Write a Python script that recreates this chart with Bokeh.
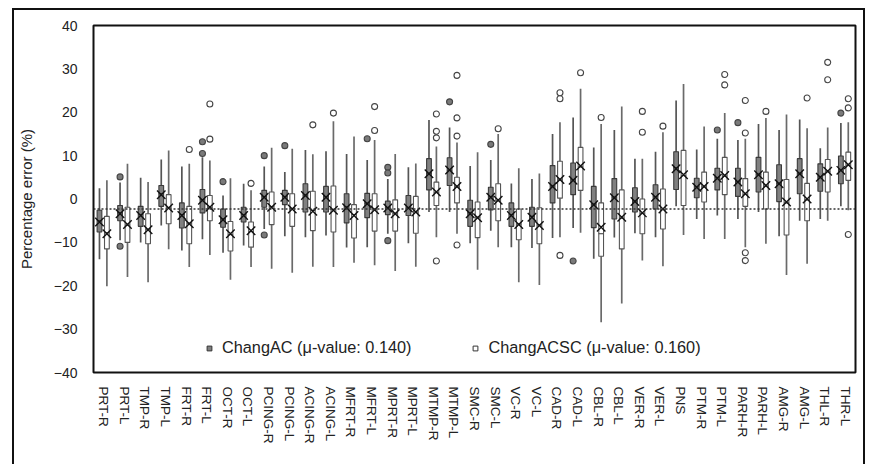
from bokeh.plotting import figure
from bokeh.models import ColumnDataSource, FactorRange, Range1d, Span, Legend, LegendItem, FixedTicker
from bokeh.transform import dodge
from bokeh.embed import file_html
from bokeh.resources import INLINE

cats = ["PRT-R", "PRT-L", "TMP-R", "TMP-L", "FRT-R", "FRT-L", "OCT-R", "OCT-L",
        "PCING-R", "PCING-L", "ACING-R", "ACING-L", "MFRT-R", "MFRT-L", "MPRT-R",
        "MPRT-L", "MTMP-R", "MTMP-L", "SMC-R", "SMC-L", "VC-R", "VC-L", "CAD-R",
        "CAD-L", "CBL-R", "CBL-L", "VER-R", "VER-L", "PNS", "PTM-R", "PTM-L",
        "PARH-R", "PARH-L", "AMG-R", "AMG-L", "THL-R", "THR-L"]

# ChangAC (grey)
ac_lo = [-13.9, -9.5, -10.0, -6.1, -11.9, -9.3, -12.4, -10.7, -6.9, -8.6, -8.8, -8.4, -11.2,
         -11.1, -8.0, -10.2, -3.0, -3.0, -10.2, -7.3, -11.1, -11.3, -9.0, -6.7, -13.8, -8.9,
         -7.9, -8.8, -1.7, -4.6, -3.8, -4.6, -3.0, -8.6, -5.0, -4.6, -1.7]
ac_q1 = [-7.6, -5.0, -6.3, -1.7, -6.7, -3.2, -6.5, -5.3, -1.9, -1.3, -3.0, -3.0, -5.5, -4.3,
         -3.6, -3.8, 2.1, 3.1, -6.3, -2.5, -6.3, -6.3, -0.9, 1.0, -6.6, -4.6, -3.0, -2.3, 2.2,
         0.3, 2.1, 0.6, 1.6, -0.6, 1.2, 1.8, 3.5]
ac_med = [-5.0, -3.2, -3.6, 1.2, -3.6, -0.2, -4.6, -3.6, 0.5, 0.5, 0.9, 0.5, -1.8, -1.0, -2.0,
          -2.0, 5.9, 6.6, -3.2, 0.5, -3.6, -4.0, 3.0, 4.4, -1.2, 0.4, -0.5, 0.5, 7.2, 2.8, 4.9,
          4.0, 5.7, 3.6, 5.9, 5.1, 6.7]
ac_q3 = [-2.6, -1.5, -1.7, 3.1, -0.9, 2.2, -2.3, -1.9, 2.0, 2.0, 3.5, 2.9, 1.2, 1.3, -0.5, 0.8,
         9.3, 9.5, -0.3, 2.7, -0.9, -1.9, 7.7, 8.3, 2.9, 4.7, 2.6, 3.3, 10.9, 4.8, 7.1, 7.1,
         9.6, 7.9, 9.3, 8.1, 9.9]
ac_hi = [2.5, 3.8, 4.9, 9.1, 7.5, 9.6, 0.8, 3.5, 7.5, 6.2, 11.3, 11.0, 10.4, 9.0, 4.6, 7.3,
         18.2, 16.5, 7.6, 9.0, 3.6, 4.6, 15.0, 18.8, 11.9, 15.9, 9.3, 10.9, 22.7, 11.4, 13.9,
         13.6, 17.3, 15.9, 18.3, 11.7, 17.5]
ac_mean = [-5.3, -3.4, -3.8, 1.0, -3.8, -0.3, -4.8, -3.8, 0.4, 0.4, 0.8, 0.4, -2.0, -1.1, -2.1,
           -2.1, 5.8, 6.7, -3.4, 0.4, -3.8, -4.2, 2.9, 4.3, -1.3, 0.3, -0.6, 0.4, 7.0, 2.7, 4.8,
           3.9, 5.6, 3.5, 5.8, 5.0, 6.6]
ac_out_cat = ["PRT-L", "PRT-L", "FRT-L", "FRT-L", "OCT-R", "PCING-R", "PCING-R", "PCING-L",
              "MFRT-L", "MPRT-R", "MPRT-R", "MPRT-R", "MTMP-L", "SMC-L", "CAD-L", "PTM-L",
              "PARH-R", "THR-L"]
ac_out_val = [5.1, -10.9, 13.2, 10.5, 4.0, 10.0, -8.3, 12.3, 13.9, 7.3, 6.0, -9.6, 22.4, 12.6,
              -14.3, 15.9, 17.6, 19.8]

# ChangACSC (white)
sc_lo = [-20.1, -18.0, -19.2, -11.6, -15.7, -12.9, -18.6, -15.7, -16.1, -17.0, -15.6, -15.7,
         -14.7, -15.3, -16.6, -15.6, -8.8, -8.0, -16.3, -11.1, -19.2, -19.8, -8.8, -7.8, -28.4,
         -24.1, -14.2, -15.5, -8.3, -9.2, -9.2, -11.1, -10.3, -17.5, -14.9, -5.0, -2.6]
sc_q1 = [-11.5, -10.0, -10.3, -5.7, -10.3, -5.0, -12.0, -11.1, -5.9, -6.3, -7.3, -7.6, -9.0,
         -7.4, -7.4, -7.9, -1.5, -0.9, -8.9, -5.0, -9.4, -10.3, 0.2, 2.0, -13.2, -11.5, -8.0,
         -6.9, -1.5, -0.7, 1.0, -1.7, -2.3, -8.3, -5.0, 1.6, 4.3]
sc_med = [-7.8, -6.0, -7.0, -2.0, -5.6, -2.0, -8.2, -7.5, -1.8, -2.2, -2.6, -2.5, -3.6, -2.4,
          -3.3, -3.0, 1.5, 2.8, -4.2, -0.4, -5.8, -6.0, 4.4, 7.4, -8.0, -4.4, -3.3, -2.4, 5.4,
          2.8, 5.3, 1.1, 3.0, -0.9, -0.2, 6.3, 7.8]
sc_q3 = [-4.0, -1.9, -3.4, 1.0, -1.7, 0.8, -5.2, -5.3, 1.6, 1.2, 1.8, 3.0, -1.3, 1.2, -0.2,
         0.6, 3.9, 5.0, -0.7, 3.5, -2.3, -2.0, 8.7, 11.9, -0.9, 2.1, 0.0, 2.3, 11.2, 6.2, 9.6,
         4.7, 6.2, 4.5, 3.6, 9.1, 10.8]
sc_hi = [4.3, 8.1, 3.9, 11.2, 8.1, 8.9, 4.8, 2.0, 11.8, 11.6, 10.3, 17.9, 14.4, 13.6, 10.4,
         8.2, 12.1, 13.0, 10.8, 15.0, 7.1, 5.9, 17.7, 25.4, 17.3, 21.3, 9.3, 15.4, 26.5, 16.7,
         19.8, 13.9, 18.7, 19.5, 16.3, 16.5, 17.7]
sc_mean = [-8.0, -5.9, -7.1, -2.1, -5.7, -1.9, -8.0, -7.3, -1.9, -2.3, -2.8, -2.6, -3.8, -2.5,
           -3.4, -3.0, 1.6, 2.9, -4.3, -0.3, -5.9, -6.1, 4.5, 7.6, -6.5, -4.2, -3.2, -2.3, 5.6,
           2.9, 5.4, 1.2, 3.1, -0.7, 0.0, 6.4, 7.9]
sc_out_cat = ["FRT-R", "FRT-L", "FRT-L", "OCT-L", "ACING-R", "ACING-L", "MFRT-L", "MFRT-L",
              "MTMP-R", "MTMP-R", "MTMP-R", "MTMP-R", "MTMP-L", "MTMP-L", "MTMP-L", "MTMP-L",
              "SMC-L", "CAD-R", "CAD-R", "CAD-R", "CAD-L", "CBL-R", "VER-R", "VER-R", "VER-L",
              "PTM-L", "PTM-L", "PARH-R", "PARH-R", "PARH-R", "PARH-R", "PARH-L", "AMG-L",
              "THL-R", "THL-R", "THR-L", "THR-L", "THR-L"]
sc_out_val = [11.4, 21.9, 13.8, 3.6, 17.1, 19.8, 21.3, 15.8, 19.6, 15.6, 14.1, -14.3, 28.5,
              18.7, 14.5, -10.6, 16.2, 24.5, 23.1, -13.0, 29.1, 18.8, 20.2, 15.4, 16.8, 28.7,
              26.3, 22.7, 15.2, -12.4, -14.2, 20.2, 23.3, 31.5, 27.5, 23.1, 21.0, -8.2]

ref_line = -2.3
y_ticks = [-40, -30, -20, -10, 0, 10, 20, 30, 40]

FONT = "Liberation Sans"
TXT = "#222222"

p = figure(x_range=FactorRange(*cats), y_range=Range1d(-40, 40),
           width=853, height=462, output_backend="svg", toolbar_location=None,
           min_border_left=76, min_border_right=12, min_border_top=15, min_border_bottom=100)
p.margin = (8, 0, 0, 12)
p.styles = {"border": "2px solid #111111"}
p.outline_line_color = "#111111"
p.outline_line_width = 2
p.xgrid.visible = False
p.ygrid.visible = False

p.yaxis.ticker = FixedTicker(ticks=y_ticks)
p.yaxis.axis_line_color = None
p.yaxis.major_tick_line_color = None
p.yaxis.minor_tick_line_color = None
p.yaxis.major_label_text_font = FONT
p.yaxis.major_label_text_font_size = "14px"
p.yaxis.major_label_text_color = TXT
p.yaxis.major_label_standoff = 10
p.yaxis.axis_label = "Percentage error (%)"
p.yaxis.axis_label_text_font = FONT
p.yaxis.axis_label_text_font_size = "15px"
p.yaxis.axis_label_text_font_style = "normal"
p.yaxis.axis_label_text_color = TXT
p.yaxis.axis_label_standoff = 16

p.xaxis.axis_line_color = None
p.xaxis.major_tick_line_color = None
p.xaxis.minor_tick_line_color = None
p.xaxis.major_label_orientation = "vertical"
p.xaxis.major_label_text_font = FONT
p.xaxis.major_label_text_font_size = "13.5px"
p.xaxis.major_label_text_color = TXT
p.xaxis.major_label_standoff = 8

p.add_layout(Span(location=ref_line, dimension="width", line_color="#333333",
                  line_width=1.5, line_dash="2 2"))

def series(lo, q1, med, q3, hi, mean, oc, ov, off, fill, edge, whisk, ofill):
    src = ColumnDataSource(dict(cat=cats, lo=lo, q1=q1, med=med, q3=q3, hi=hi, mean=mean))
    xd = dodge("cat", off, range=p.x_range)
    p.segment(x0=xd, x1=xd, y0="lo", y1="hi", source=src, line_color=whisk, line_width=1.7)
    box = p.vbar(x=xd, width=0.23, bottom="q1", top="q3", source=src,
                 fill_color=fill, line_color=edge, line_width=1.1)
    p.rect(x=xd, y="med", width=0.23, height=0.05, source=src, fill_color=edge,
           line_color=edge, line_width=0.8)
    p.scatter(x=xd, y="mean", source=src, marker="x", size=12, line_color="#111111",
              line_width=1.4)
    osrc = ColumnDataSource(dict(cat=oc, val=ov))
    p.scatter(x=dodge("cat", off, range=p.x_range), y="val", source=osrc, marker="circle",
              size=6, fill_color=ofill, line_color="#444444", line_width=1.1)
    return box

src_leg = ColumnDataSource(dict(cat=[cats[0]], v=[100]))
series(ac_lo, ac_q1, ac_med, ac_q3, ac_hi, ac_mean, ac_out_cat, ac_out_val,
       -0.21, "#808080", "#3a3a3a", "#555555", "#7a7a7a")
series(sc_lo, sc_q1, sc_med, sc_q3, sc_hi, sc_mean, sc_out_cat, sc_out_val,
       0.15, "#ffffff", "#555555", "#6a6a6a", "#ffffff")

g1 = p.scatter(x="cat", y="v", source=src_leg, marker="square", size=10,
               fill_color="#808080", line_color="#333333")
g2 = p.scatter(x="cat", y="v", source=src_leg, marker="square", size=10,
               fill_color="#ffffff", line_color="#333333")
legend = Legend(items=[LegendItem(label="ChangAC (μ-value: 0.140)", renderers=[g1]),
                       LegendItem(label="ChangACSC (μ-value: 0.160)", renderers=[g2])],
                orientation="horizontal", location=(110, 15), spacing=58,
                border_line_color=None, background_fill_alpha=0,
                label_text_font=FONT, label_text_font_size="16.3px", label_text_color=TXT,
                glyph_width=12, glyph_height=14, padding=0, margin=0, label_standoff=7)
p.add_layout(legend)

open("out.html", "w").write(file_html(p, INLINE))
